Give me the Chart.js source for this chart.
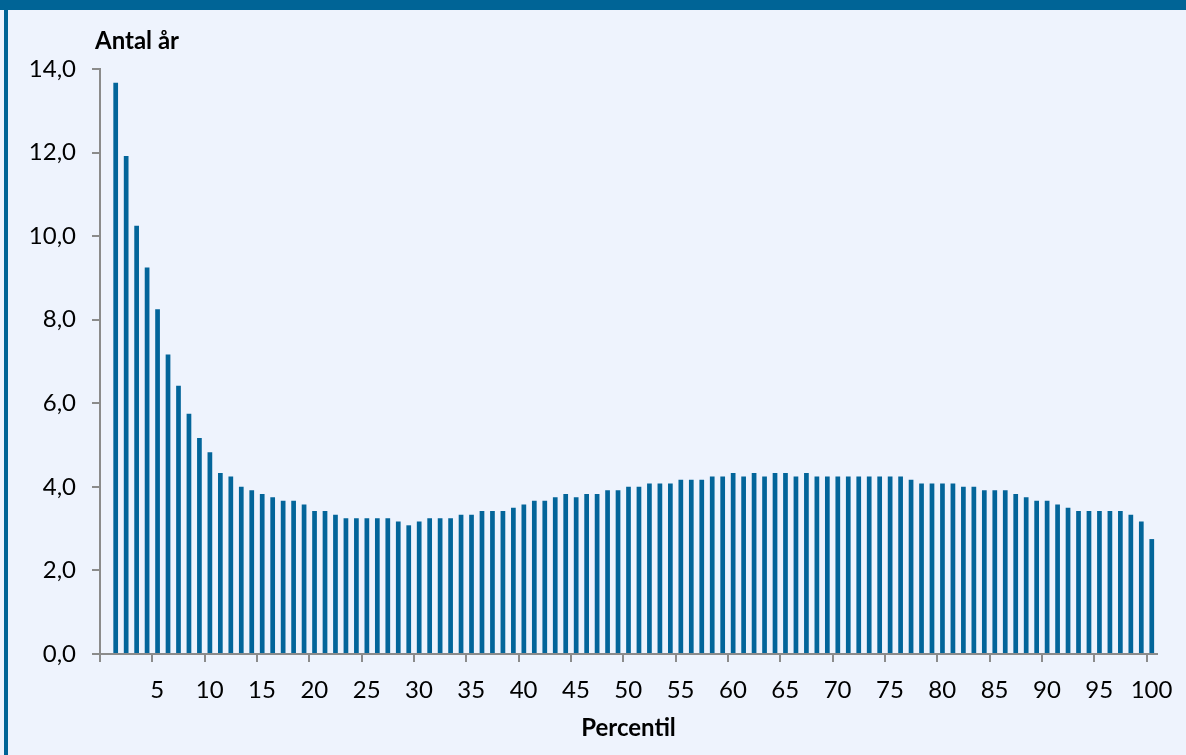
<!DOCTYPE html>
<html>
<head>
<meta charset="utf-8">
<script src="https://cdn.jsdelivr.net/npm/chart.js@4.4.1/dist/chart.umd.min.js"></script>
<style>
  html, body { margin: 0; padding: 0; background: #EEF3FD; }
  #wrap { position: relative; width: 1186px; height: 755px; overflow: hidden; background: #EEF3FD; }
  #c { position: absolute; left: 0; top: 0; }
  #topband { position: absolute; left: 0; top: 0; width: 1186px; height: 10px; background: #006496; }
  #leftband { position: absolute; left: 4px; top: 0; width: 4px; height: 755px; background: #006496; }
</style>
</head>
<body>
<div id="wrap">
  <canvas id="c" width="1186" height="755"></canvas>
  <div id="topband"></div>
  <div id="leftband"></div>
</div>
<script>
// Percentile groups 1..100
const percentiles = [
  1, 2, 3, 4, 5, 6, 7, 8, 9, 10,
  11, 12, 13, 14, 15, 16, 17, 18, 19, 20,
  21, 22, 23, 24, 25, 26, 27, 28, 29, 30,
  31, 32, 33, 34, 35, 36, 37, 38, 39, 40,
  41, 42, 43, 44, 45, 46, 47, 48, 49, 50,
  51, 52, 53, 54, 55, 56, 57, 58, 59, 60,
  61, 62, 63, 64, 65, 66, 67, 68, 69, 70,
  71, 72, 73, 74, 75, 76, 77, 78, 79, 80,
  81, 82, 83, 84, 85, 86, 87, 88, 89, 90,
  91, 92, 93, 94, 95, 96, 97, 98, 99, 100
];

// Number of years per percentile
const antalAr = [
  13.67, 11.92, 10.25, 9.25, 8.25, 7.17, 6.42, 5.75, 5.17, 4.83,
  4.33, 4.25, 4.00, 3.92, 3.83, 3.75, 3.67, 3.67, 3.58, 3.42,
  3.42, 3.33, 3.25, 3.25, 3.25, 3.25, 3.25, 3.17, 3.08, 3.17,
  3.25, 3.25, 3.25, 3.33, 3.33, 3.42, 3.42, 3.42, 3.50, 3.58,
  3.67, 3.67, 3.75, 3.83, 3.75, 3.83, 3.83, 3.92, 3.92, 4.00,
  4.00, 4.08, 4.08, 4.08, 4.17, 4.17, 4.17, 4.25, 4.25, 4.33,
  4.25, 4.33, 4.25, 4.33, 4.33, 4.25, 4.33, 4.25, 4.25, 4.25,
  4.25, 4.25, 4.25, 4.25, 4.25, 4.25, 4.17, 4.08, 4.08, 4.08,
  4.08, 4.00, 4.00, 3.92, 3.92, 3.92, 3.83, 3.75, 3.67, 3.67,
  3.58, 3.50, 3.42, 3.42, 3.42, 3.42, 3.42, 3.33, 3.17, 2.75
];

// Axis tick labels
const xTickLabels = ['', '5', '10', '15', '20', '25', '30', '35', '40', '45', '50',
                     '55', '60', '65', '70', '75', '80', '85', '90', '95', '100'];
const yTickValues = [0, 2, 4, 6, 8, 10, 12, 14];
const yTickLabels = ['0,0', '2,0', '4,0', '6,0', '8,0', '10,0', '12,0', '14,0'];

const FONT = 'Lato, "Open Sans", sans-serif';
const AXIS_GREY = '#8B8B8B';
const BAR_BLUE = '#03659A';

const yAxisTitle = {
  id: 'yAxisTitle',
  afterDraw(chart) {
    const ctx = chart.ctx;
    ctx.save();
    ctx.font = 'bold 24px ' + FONT;
    ctx.fillStyle = '#000000';
    ctx.textAlign = 'left';
    ctx.textBaseline = 'alphabetic';
    ctx.fillText('Antal år', 95, 49);
    ctx.restore();
  }
};

new Chart(document.getElementById('c'), {
  type: 'bar',
  data: {
    datasets: [{
      data: percentiles.map((p, i) => ({ x: p, y: antalAr[i] })),
      backgroundColor: BAR_BLUE,
      borderWidth: 0,
      categoryPercentage: 1,
      barPercentage: 0.45
    }]
  },
  options: {
    responsive: false,
    animation: false,
    events: [],
    layout: { padding: { left: 0, top: 69, right: 29, bottom: 0 } },
    plugins: { legend: { display: false }, tooltip: { enabled: false } },
    scales: {
      x: {
        type: 'linear',
        offset: false,
        min: -0.5,
        max: 100.5,
        afterFit(scale) { scale.height = 101; },
        afterBuildTicks(scale) {
          // one tick at every fifth category boundary
          scale.ticks = xTickLabels.map((_, i) => ({ value: i * 5 - 0.5 }));
        },
        grid: {
          offset: false,
          drawOnChartArea: false,
          drawTicks: true,
          tickLength: 8,
          color: AXIS_GREY,
          lineWidth: 2
        },
        border: { display: true, color: AXIS_GREY, width: 2 },
        ticks: {
          autoSkip: false,
          maxRotation: 0,
          minRotation: 0,
          padding: 14,
          labelOffset: 5,
          color: '#000000',
          font: { family: FONT, size: 24 },
          callback: (v, i) => xTickLabels[i]
        },
        title: {
          display: true,
          text: 'Percentil',
          color: '#000000',
          font: { family: FONT, size: 24, weight: 'bold' },
          padding: { top: 0, bottom: 12 }
        }
      },
      y: {
        min: 0,
        max: 14,
        afterFit(scale) { scale.width = 100; },
        afterBuildTicks(scale) {
          scale.ticks = yTickValues.map(v => ({ value: v }));
        },
        grid: {
          drawOnChartArea: false,
          drawTicks: true,
          tickLength: 8,
          color: AXIS_GREY,
          lineWidth: 2
        },
        border: { display: true, color: AXIS_GREY, width: 2 },
        ticks: {
          padding: 16,
          color: '#000000',
          font: { family: FONT, size: 24 },
          callback: (v) => yTickLabels[yTickValues.indexOf(v)]
        }
      }
    }
  },
  plugins: [yAxisTitle]
});
</script>
</body>
</html>
